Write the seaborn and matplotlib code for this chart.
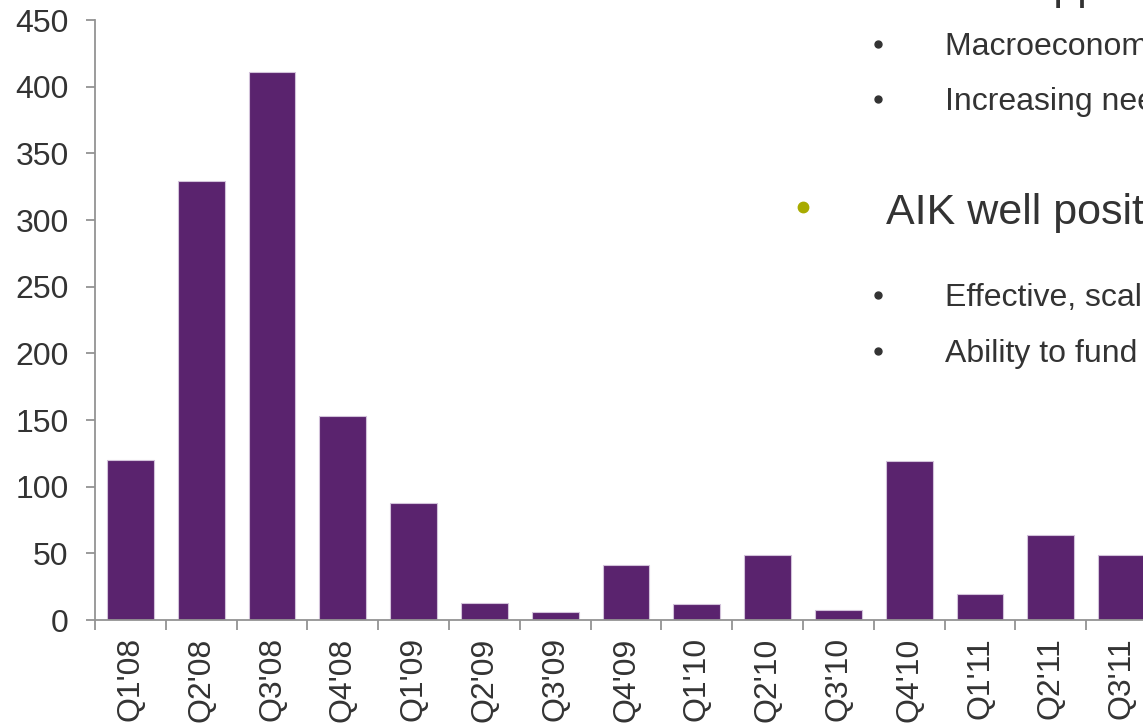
import matplotlib
matplotlib.use("Agg")
import matplotlib.pyplot as plt
from matplotlib.lines import Line2D
import numpy as np
import pandas as pd
import seaborn as sns

# ---- data -------------------------------------------------------------
quarters = ["Q1'08", "Q2'08", "Q3'08", "Q4'08", "Q1'09", "Q2'09", "Q3'09",
            "Q4'09", "Q1'10", "Q2'10", "Q3'10", "Q4'10", "Q1'11", "Q2'11",
            "Q3'11"]
values = [120, 329, 411, 153, 88, 13, 6, 41, 12, 48.5, 7.5, 119, 19.5, 64, 49]
y_ticks = [0, 50, 100, 150, 200, 250, 300, 350, 400, 450]

heading_1 = "Market opportunity"
bullets_1 = ["Macroeconomic environment", "Increasing need for capital"]
heading_2 = "AIK well positioned"
bullets_2 = ["Effective, scalable platform", "Ability to fund growth"]

# ---- style ------------------------------------------------------------
sns.set_style("white")
plt.rcParams["font.family"] = ["Liberation Sans", "DejaVu Sans"]

BAR = "#5A236E"
EDGE = "#d2c2da"
AXIS = "#939393"
TXT = "#333333"
GREEN = "#a8ab00"
FS_Y = 23
FS_X = 23
FS_SUB = 23

W, H = 1143, 725
fig = plt.figure(figsize=(W / 100, H / 100), dpi=100)
fig.patch.set_facecolor("white")

ax = fig.add_axes([95 / W, 105 / H, 1062 / W, 600 / H])
df = pd.DataFrame({"quarter": quarters, "value": values})
sns.barplot(data=df, x="quarter", y="value", color=BAR, saturation=1,
            width=0.66, edgecolor=EDGE, linewidth=0.8, ax=ax)

ax.set_xlim(-0.5, len(quarters) - 0.5)
ax.set_ylim(0, 450)
ax.set_yticks(y_ticks)
ax.set_xlabel("")
ax.set_ylabel("")

for s in ["top", "right"]:
    ax.spines[s].set_visible(False)
for s in ["left", "bottom"]:
    ax.spines[s].set_color(AXIS)
    ax.spines[s].set_linewidth(1.3)

ax.set_xticks(range(len(quarters)))
ax.set_xticklabels(quarters, rotation=90, fontsize=FS_X, color=TXT)
ax.set_xticks(np.arange(-0.5, len(quarters), 1.0), minor=True)
ax.tick_params(axis="x", which="major", length=0, pad=12.5)
ax.tick_params(axis="x", which="minor", length=7.5, width=1.3,
               color=AXIS, direction="out", bottom=True)
ax.tick_params(axis="y", which="major", length=6.5, width=1.3,
               color=AXIS, direction="out", left=True, pad=12.5,
               labelsize=FS_Y, labelcolor=TXT)
ax.grid(False)

# ---- slide text on the right ------------------------------------------
def fy(px):
    return 1 - px / H

fig.text(886 / W, fy(-1), heading_1, fontsize=31, color=TXT,
         ha="left", va="baseline")
for txt, base in zip(bullets_1, [55, 110]):
    fig.text(945 / W, fy(base), txt, fontsize=FS_SUB, color=TXT,
             ha="left", va="baseline")
    fig.add_artist(Line2D([878 / W], [fy(base - 11)], transform=fig.transFigure,
                          marker="o", markersize=5, color=TXT, linestyle="None"))

fig.text(886 / W, fy(224), heading_2, fontsize=31, color=TXT,
         ha="left", va="baseline")
fig.add_artist(Line2D([803 / W], [fy(207)], transform=fig.transFigure,
                      marker="o", markersize=7.5, color=GREEN, linestyle="None"))
for txt, base in zip(bullets_2, [306, 362]):
    fig.text(945 / W, fy(base), txt, fontsize=FS_SUB, color=TXT,
             ha="left", va="baseline")
    fig.add_artist(Line2D([878 / W], [fy(base - 11)], transform=fig.transFigure,
                          marker="o", markersize=5, color=TXT, linestyle="None"))

fig.savefig("out.png", dpi=100, facecolor="white")
